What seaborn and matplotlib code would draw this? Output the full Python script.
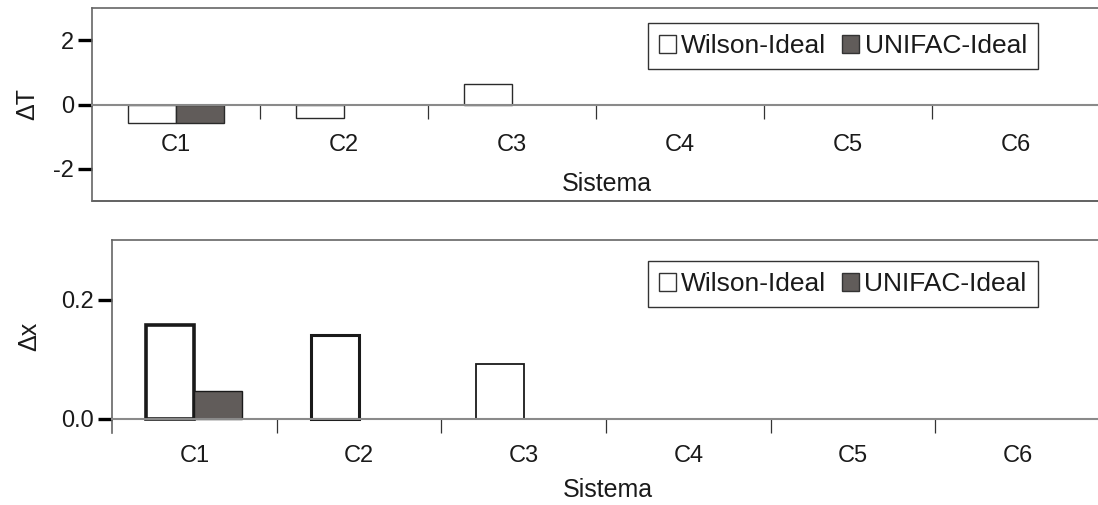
import numpy as np
import pandas as pd
import matplotlib
matplotlib.use("Agg")
import matplotlib.pyplot as plt
from matplotlib.patches import Patch
import seaborn as sns

categories = ["C1", "C2", "C3", "C4", "C5", "C6"]
series = ["Wilson-Ideal", "UNIFAC-Ideal"]
dT_wilson = [-0.57, -0.42, 0.65, 0.0, 0.0, 0.0]
dT_unifac = [-0.57, 0.0, 0.0, 0.0, 0.0, 0.0]
dx_wilson = [0.158, 0.140, 0.092, 0.0, 0.0, 0.0]
dx_unifac = [0.046, 0.0, 0.0, 0.0, 0.0, 0.0]
dT_ticks = [-2, 0, 2]
dx_ticks = [0.0, 0.2]

sns.set_theme(style="white")
plt.rcParams["font.family"] = ["Liberation Sans", "DejaVu Sans"]

W, H = 1098, 505
fig = plt.figure(figsize=(W / 100, H / 100), dpi=100)
ax1 = fig.add_axes([92 / W, (H - 201) / H, 1008 / W, 193 / H])
ax2 = fig.add_axes([112 / W, (H - 433) / H, 988 / W, 193 / H])

palette = {series[0]: "white", series[1]: "#615c5a"}


def long_df(w, u):
    return pd.DataFrame({
        "Sistema": categories * 2,
        "val": list(w) + list(u),
        "Modelo": [series[0]] * len(categories) + [series[1]] * len(categories),
    })


def style_axes(ax, ylim, yticks, yfmt, ylabel, xpad, draw_bottom_frame, xlab_xy, ylab_x):
    ax.set_xlim(-0.5, len(categories) - 0.5)
    ax.set_ylim(*ylim)
    ax.set_yticks(yticks)
    ax.set_yticklabels([yfmt.format(t) for t in yticks])
    ax.set_xticks(range(len(categories)))
    ax.set_xticklabels(categories)
    ax.set_xticks([i + 0.5 for i in range(len(categories) - 1)], minor=True)
    ax.tick_params(axis="y", which="major", left=True, direction="out", length=10,
                   width=2.4, color="black", labelsize=17, labelcolor="#1a1a1a", pad=3)
    ax.tick_params(axis="x", which="major", bottom=True, length=0, labelsize=17,
                   labelcolor="#1a1a1a", pad=xpad)
    ax.tick_params(axis="x", which="minor", bottom=True, direction="out", length=10,
                   width=0.9, color="#333333")
    ax.spines["bottom"].set_position(("data", 0))
    ax.spines["bottom"].set_color("#8a8a8a")
    ax.spines["bottom"].set_linewidth(1.5)
    for s in ["left", "top"]:
        ax.spines[s].set_color("#666666")
        ax.spines[s].set_linewidth(1.2)
    ax.spines["right"].set_visible(False)
    if draw_bottom_frame:
        ax.plot([0, 1], [0, 0], transform=ax.transAxes, color="#555555", lw=1.3,
                clip_on=False)
    ax.set_xlabel("Sistema", fontsize=18, color="#1a1a1a")
    ax.xaxis.set_label_coords(*xlab_xy)
    ax.set_ylabel(ylabel, fontsize=18, color="#1a1a1a")
    ax.yaxis.set_label_coords(ylab_x, 0.5)


def legend(ax, anchor):
    handles = [Patch(facecolor=palette[s], edgecolor="#333333", linewidth=1.0) for s in series]
    leg = ax.legend(handles, series, loc="upper right", bbox_to_anchor=anchor, ncol=2,
                    frameon=True, fancybox=False, shadow=False, framealpha=1,
                    edgecolor="#333333", fontsize=19, handlelength=0.65, handleheight=0.65,
                    handletextpad=0.2, columnspacing=0.6, borderpad=0.42, borderaxespad=0)
    leg.get_frame().set_linewidth(1.0)
    for t in leg.get_texts():
        t.set_color("#1a1a1a")


# Top panel: Delta T
sns.barplot(data=long_df(dT_wilson, dT_unifac), x="Sistema", y="val", hue="Modelo",
            palette=palette, width=0.575, edgecolor="#2a2a2a", linewidth=1.0,
            ax=ax1, legend=False, saturation=1)
for p in ax1.patches:
    if abs(p.get_height()) < 1e-9:
        p.set_linewidth(0)
style_axes(ax1, (-3, 3), dT_ticks, "{:g}", "ΔT", 21, True, (0.511, 0.15), -0.052)
legend(ax1, (0.9385, 0.922))

# Bottom panel: Delta x
sns.barplot(data=long_df(dx_wilson, dx_unifac), x="Sistema", y="val", hue="Modelo",
            palette=palette, width=0.583, edgecolor="#1a1a1a", linewidth=1.0,
            ax=ax2, legend=False, saturation=1)
wil_lw = [2.6, 2.2, 1.3, 1.0, 1.0, 1.0]
for cont, s in zip(ax2.containers, series):
    for i, p in enumerate(cont.patches):
        if s == series[0]:
            p.set_linewidth(wil_lw[i])
        if abs(p.get_height()) < 1e-9:
            p.set_linewidth(0)
style_axes(ax2, (-0.024, 0.3), dx_ticks, "{:.1f}", "Δx", 19, False, (0.5015, -0.232), -0.072)
legend(ax2, (0.937, 0.891))

fig.savefig("out.png", dpi=100)
